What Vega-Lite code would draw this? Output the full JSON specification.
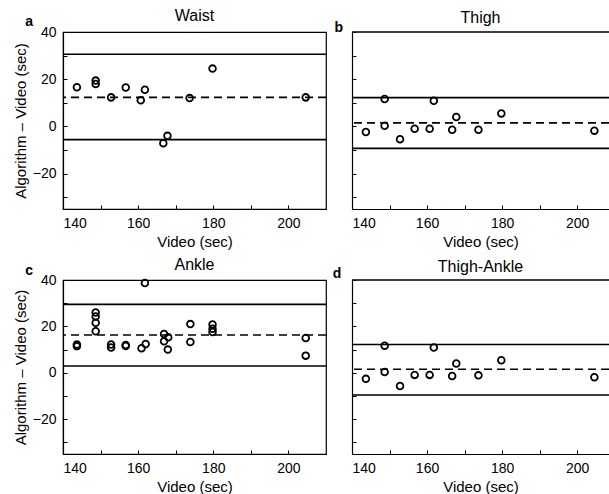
{
  "$schema": "https://vega.github.io/schema/vega-lite/v6.json",
  "padding": {"left": 12, "top": 7, "right": 0, "bottom": 5},
  "background": "white",
  "datasets": {
    "points": [
      {"panel": "a", "video": 143.7, "diff": 16.6},
      {"panel": "a", "video": 148.7, "diff": 19.4},
      {"panel": "a", "video": 148.7, "diff": 18.0},
      {"panel": "a", "video": 152.8, "diff": 12.3},
      {"panel": "a", "video": 156.7, "diff": 16.5},
      {"panel": "a", "video": 160.7, "diff": 11.1},
      {"panel": "a", "video": 161.8, "diff": 15.5},
      {"panel": "a", "video": 166.7, "diff": -7.1},
      {"panel": "a", "video": 167.8, "diff": -4.0},
      {"panel": "a", "video": 173.7, "diff": 12.0},
      {"panel": "a", "video": 179.8, "diff": 24.5},
      {"panel": "a", "video": 204.6, "diff": 12.3},
      {"panel": "b", "video": 143.7, "diff": -2.4},
      {"panel": "b", "video": 148.7, "diff": 11.6},
      {"panel": "b", "video": 148.7, "diff": 0.3},
      {"panel": "b", "video": 152.8, "diff": -5.4},
      {"panel": "b", "video": 156.7, "diff": -1.0},
      {"panel": "b", "video": 160.7, "diff": -1.0},
      {"panel": "b", "video": 161.8, "diff": 10.9},
      {"panel": "b", "video": 166.7, "diff": -1.4},
      {"panel": "b", "video": 167.8, "diff": 4.0},
      {"panel": "b", "video": 173.7, "diff": -1.4},
      {"panel": "b", "video": 179.8, "diff": 5.5},
      {"panel": "b", "video": 204.6, "diff": -1.8},
      {"panel": "c", "video": 143.7, "diff": 12.2},
      {"panel": "c", "video": 143.7, "diff": 11.5},
      {"panel": "c", "video": 148.7, "diff": 26.0},
      {"panel": "c", "video": 148.7, "diff": 24.3},
      {"panel": "c", "video": 148.7, "diff": 21.6},
      {"panel": "c", "video": 148.7, "diff": 17.9},
      {"panel": "c", "video": 152.8, "diff": 12.2},
      {"panel": "c", "video": 152.8, "diff": 10.9},
      {"panel": "c", "video": 156.7, "diff": 12.0},
      {"panel": "c", "video": 156.7, "diff": 11.6},
      {"panel": "c", "video": 160.9, "diff": 10.6},
      {"panel": "c", "video": 162.0, "diff": 12.4},
      {"panel": "c", "video": 161.8, "diff": 38.7},
      {"panel": "c", "video": 166.9, "diff": 16.7},
      {"panel": "c", "video": 166.9, "diff": 13.6},
      {"panel": "c", "video": 168.0, "diff": 15.3},
      {"panel": "c", "video": 167.9, "diff": 10.0},
      {"panel": "c", "video": 173.9, "diff": 21.0},
      {"panel": "c", "video": 173.9, "diff": 13.3},
      {"panel": "c", "video": 179.8, "diff": 20.8},
      {"panel": "c", "video": 179.8, "diff": 19.0},
      {"panel": "c", "video": 179.8, "diff": 17.6},
      {"panel": "c", "video": 204.6, "diff": 15.0},
      {"panel": "c", "video": 204.6, "diff": 7.4},
      {"panel": "d", "video": 143.7, "diff": -2.6},
      {"panel": "d", "video": 148.7, "diff": 11.7},
      {"panel": "d", "video": 148.7, "diff": 0.3},
      {"panel": "d", "video": 152.8, "diff": -5.7},
      {"panel": "d", "video": 156.7, "diff": -0.9},
      {"panel": "d", "video": 160.7, "diff": -0.9},
      {"panel": "d", "video": 161.8, "diff": 10.9},
      {"panel": "d", "video": 166.7, "diff": -1.4},
      {"panel": "d", "video": 167.8, "diff": 4.0},
      {"panel": "d", "video": 173.7, "diff": -1.1},
      {"panel": "d", "video": 179.8, "diff": 5.4},
      {"panel": "d", "video": 204.6, "diff": -1.9}
    ],
    "lines": [
      {"panel": "a", "kind": "limit", "diff": 30.6},
      {"panel": "a", "kind": "mean", "diff": 12.3},
      {"panel": "a", "kind": "limit", "diff": -5.6},
      {"panel": "b", "kind": "limit", "diff": 12.2},
      {"panel": "b", "kind": "mean", "diff": 1.5},
      {"panel": "b", "kind": "limit", "diff": -9.3},
      {"panel": "c", "kind": "limit", "diff": 29.5},
      {"panel": "c", "kind": "mean", "diff": 16.3},
      {"panel": "c", "kind": "limit", "diff": 2.9},
      {"panel": "d", "kind": "limit", "diff": 12.2},
      {"panel": "d", "kind": "mean", "diff": 1.5},
      {"panel": "d", "kind": "limit", "diff": -9.6}
    ],
    "letters": [
      {"panel": "a", "label": "a"},
      {"panel": "b", "label": "b"},
      {"panel": "c", "label": "c"},
      {"panel": "d", "label": "d"}
    ]
  },
  "columns": 2,
  "bounds": "flush",
  "spacing": {"row": 71, "column": 26},
  "concat": [
    {
      "title": {"text": "Waist", "offset": -9},
      "width": 263,
      "height": 177,
      "layer": [
        {
          "data": {"name": "lines"},
          "transform": [{"filter": "datum.panel == 'a'"}],
          "mark": {"type": "rule", "color": "black", "strokeWidth": 1.6},
          "encoding": {
            "y": {"field": "diff", "type": "quantitative", "scale": {"domain": [-35, 40], "nice": false, "zero": false},
                  "axis": {"title": "Algorithm – Video (sec)", "values": [-30, -20, -10, 0, 10, 20, 30, 40], "labelExpr": "datum.value % 20 == 0 ? datum.label : ''"}},
            "strokeDash": {"field": "kind", "type": "nominal", "scale": {"domain": ["limit", "mean"], "range": [[1, 0], [8, 5]]}, "legend": null}
          }
        },
        {
          "data": {"name": "points"},
          "transform": [{"filter": "datum.panel == 'a'"}],
          "mark": {"type": "point", "shape": "circle", "filled": false, "color": "black", "strokeWidth": 1.8, "size": 45, "opacity": 1},
          "encoding": {
            "x": {"field": "video", "type": "quantitative", "scale": {"domain": [140, 210], "nice": false, "zero": false},
                  "axis": {"title": "Video (sec)", "values": [140, 150, 160, 170, 180, 190, 200], "labelExpr": "datum.value % 20 == 0 ? datum.label : ''"}},
            "y": {"field": "diff", "type": "quantitative", "scale": {"domain": [-35, 40], "nice": false, "zero": false},
                  "axis": {"title": "Algorithm – Video (sec)", "values": [-30, -20, -10, 0, 10, 20, 30, 40], "labelExpr": "datum.value % 20 == 0 ? datum.label : ''"}}
          }
        },
        {
          "data": {"name": "letters"},
          "transform": [{"filter": "datum.panel == 'a'"}],
          "mark": {"type": "text", "fontWeight": "bold", "fontSize": 14, "color": "black", "align": "center", "baseline": "middle"},
          "encoding": {
            "text": {"field": "label"},
            "x": {"datum": 131, "type": "quantitative", "scale": {"domain": [140, 210], "nice": false, "zero": false},
                  "axis": {"title": "Video (sec)", "values": [140, 150, 160, 170, 180, 190, 200], "labelExpr": "datum.value % 20 == 0 ? datum.label : ''"}},
            "y": {"datum": 44.3, "type": "quantitative", "scale": {"domain": [-35, 40], "nice": false, "zero": false},
                  "axis": {"title": "Algorithm – Video (sec)", "values": [-30, -20, -10, 0, 10, 20, 30, 40], "labelExpr": "datum.value % 20 == 0 ? datum.label : ''"}}
          }
        }
      ]
    },
    {
      "title": {"text": "Thigh", "offset": -5},
      "width": 257,
      "height": 177,
      "view": {"stroke": null},
      "layer": [
        {
          "data": {"name": "lines"},
          "transform": [{"filter": "datum.panel == 'b'"}],
          "mark": {"type": "rule", "color": "black", "strokeWidth": 1.6},
          "encoding": {
            "y": {"field": "diff", "type": "quantitative", "scale": {"domain": [-35, 40], "nice": false, "zero": false},
                  "axis": {"title": null, "labels": false, "values": [-30, -20, -10, 0, 10, 20, 30, 40]}},
            "strokeDash": {"field": "kind", "type": "nominal", "scale": {"domain": ["limit", "mean"], "range": [[1, 0], [8, 5]]}, "legend": null}
          }
        },
        {
          "data": {"name": "letters"},
          "transform": [{"filter": "datum.panel == 'b'"}],
          "mark": {"type": "rule", "color": "black", "strokeWidth": 1.6},
          "encoding": {"y": {"datum": 40, "type": "quantitative", "scale": {"domain": [-35, 40], "nice": false, "zero": false},
                  "axis": {"title": null, "labels": false, "values": [-30, -20, -10, 0, 10, 20, 30, 40]}}}
        },
        {
          "data": {"name": "points"},
          "transform": [{"filter": "datum.panel == 'b'"}],
          "mark": {"type": "point", "shape": "circle", "filled": false, "color": "black", "strokeWidth": 1.8, "size": 45, "opacity": 1},
          "encoding": {
            "x": {"field": "video", "type": "quantitative", "scale": {"domain": [140, 208.5], "nice": false, "zero": false},
                  "axis": {"title": "Video (sec)", "values": [140, 150, 160, 170, 180, 190, 200], "labelExpr": "datum.value % 20 == 0 ? datum.label : ''"}},
            "y": {"field": "diff", "type": "quantitative", "scale": {"domain": [-35, 40], "nice": false, "zero": false},
                  "axis": {"title": null, "labels": false, "values": [-30, -20, -10, 0, 10, 20, 30, 40]}}
          }
        },
        {
          "data": {"name": "letters"},
          "transform": [{"filter": "datum.panel == 'b'"}],
          "mark": {"type": "text", "fontWeight": "bold", "fontSize": 14, "color": "black", "align": "center", "baseline": "middle"},
          "encoding": {
            "text": {"field": "label"},
            "x": {"datum": 136.5, "type": "quantitative", "scale": {"domain": [140, 208.5], "nice": false, "zero": false},
                  "axis": {"title": "Video (sec)", "values": [140, 150, 160, 170, 180, 190, 200], "labelExpr": "datum.value % 20 == 0 ? datum.label : ''"}},
            "y": {"datum": 41.7, "type": "quantitative", "scale": {"domain": [-35, 40], "nice": false, "zero": false},
                  "axis": {"title": null, "labels": false, "values": [-30, -20, -10, 0, 10, 20, 30, 40]}}
          }
        }
      ]
    },
    {
      "title": {"text": "Ankle", "offset": -9},
      "width": 263,
      "height": 174,
      "layer": [
        {
          "data": {"name": "lines"},
          "transform": [{"filter": "datum.panel == 'c'"}],
          "mark": {"type": "rule", "color": "black", "strokeWidth": 1.6},
          "encoding": {
            "y": {"field": "diff", "type": "quantitative", "scale": {"domain": [-35, 40], "nice": false, "zero": false},
                  "axis": {"title": "Algorithm – Video (sec)", "values": [-30, -20, -10, 0, 10, 20, 30, 40], "labelExpr": "datum.value % 20 == 0 ? datum.label : ''"}},
            "strokeDash": {"field": "kind", "type": "nominal", "scale": {"domain": ["limit", "mean"], "range": [[1, 0], [8, 5]]}, "legend": null}
          }
        },
        {
          "data": {"name": "points"},
          "transform": [{"filter": "datum.panel == 'c'"}],
          "mark": {"type": "point", "shape": "circle", "filled": false, "color": "black", "strokeWidth": 1.8, "size": 45, "opacity": 1},
          "encoding": {
            "x": {"field": "video", "type": "quantitative", "scale": {"domain": [140, 210], "nice": false, "zero": false},
                  "axis": {"title": "Video (sec)", "values": [140, 150, 160, 170, 180, 190, 200], "labelExpr": "datum.value % 20 == 0 ? datum.label : ''"}},
            "y": {"field": "diff", "type": "quantitative", "scale": {"domain": [-35, 40], "nice": false, "zero": false},
                  "axis": {"title": "Algorithm – Video (sec)", "values": [-30, -20, -10, 0, 10, 20, 30, 40], "labelExpr": "datum.value % 20 == 0 ? datum.label : ''"}}
          }
        },
        {
          "data": {"name": "letters"},
          "transform": [{"filter": "datum.panel == 'c'"}],
          "mark": {"type": "text", "fontWeight": "bold", "fontSize": 14, "color": "black", "align": "center", "baseline": "middle"},
          "encoding": {
            "text": {"field": "label"},
            "x": {"datum": 131, "type": "quantitative", "scale": {"domain": [140, 210], "nice": false, "zero": false},
                  "axis": {"title": "Video (sec)", "values": [140, 150, 160, 170, 180, 190, 200], "labelExpr": "datum.value % 20 == 0 ? datum.label : ''"}},
            "y": {"datum": 43.9, "type": "quantitative", "scale": {"domain": [-35, 40], "nice": false, "zero": false},
                  "axis": {"title": "Algorithm – Video (sec)", "values": [-30, -20, -10, 0, 10, 20, 30, 40], "labelExpr": "datum.value % 20 == 0 ? datum.label : ''"}}
          }
        }
      ]
    },
    {
      "title": {"text": "Thigh-Ankle", "offset": -8},
      "width": 257,
      "height": 174,
      "view": {"stroke": null},
      "layer": [
        {
          "data": {"name": "lines"},
          "transform": [{"filter": "datum.panel == 'd'"}],
          "mark": {"type": "rule", "color": "black", "strokeWidth": 1.6},
          "encoding": {
            "y": {"field": "diff", "type": "quantitative", "scale": {"domain": [-35, 40], "nice": false, "zero": false},
                  "axis": {"title": null, "labels": false, "values": [-30, -20, -10, 0, 10, 20, 30, 40]}},
            "strokeDash": {"field": "kind", "type": "nominal", "scale": {"domain": ["limit", "mean"], "range": [[1, 0], [8, 5]]}, "legend": null}
          }
        },
        {
          "data": {"name": "letters"},
          "transform": [{"filter": "datum.panel == 'd'"}],
          "mark": {"type": "rule", "color": "black", "strokeWidth": 1.6},
          "encoding": {"y": {"datum": 40, "type": "quantitative", "scale": {"domain": [-35, 40], "nice": false, "zero": false},
                  "axis": {"title": null, "labels": false, "values": [-30, -20, -10, 0, 10, 20, 30, 40]}}}
        },
        {
          "data": {"name": "points"},
          "transform": [{"filter": "datum.panel == 'd'"}],
          "mark": {"type": "point", "shape": "circle", "filled": false, "color": "black", "strokeWidth": 1.8, "size": 45, "opacity": 1},
          "encoding": {
            "x": {"field": "video", "type": "quantitative", "scale": {"domain": [140, 208.5], "nice": false, "zero": false},
                  "axis": {"title": "Video (sec)", "values": [140, 150, 160, 170, 180, 190, 200], "labelExpr": "datum.value % 20 == 0 ? datum.label : ''"}},
            "y": {"field": "diff", "type": "quantitative", "scale": {"domain": [-35, 40], "nice": false, "zero": false},
                  "axis": {"title": null, "labels": false, "values": [-30, -20, -10, 0, 10, 20, 30, 40]}}
          }
        },
        {
          "data": {"name": "letters"},
          "transform": [{"filter": "datum.panel == 'd'"}],
          "mark": {"type": "text", "fontWeight": "bold", "fontSize": 14, "color": "black", "align": "center", "baseline": "middle"},
          "encoding": {
            "text": {"field": "label"},
            "x": {"datum": 136, "type": "quantitative", "scale": {"domain": [140, 208.5], "nice": false, "zero": false},
                  "axis": {"title": "Video (sec)", "values": [140, 150, 160, 170, 180, 190, 200], "labelExpr": "datum.value % 20 == 0 ? datum.label : ''"}},
            "y": {"datum": 42.6, "type": "quantitative", "scale": {"domain": [-35, 40], "nice": false, "zero": false},
                  "axis": {"title": null, "labels": false, "values": [-30, -20, -10, 0, 10, 20, 30, 40]}}
          }
        }
      ]
    }
  ],
  "config": {
    "font": "Liberation Sans",
    "view": {"stroke": "black", "strokeWidth": 1.2},
    "axis": {
      "grid": false,
      "domainColor": "black",
      "domainWidth": 1.2,
      "tickColor": "black",
      "tickSize": -4,
      "labelColor": "black",
      "titleColor": "black",
      "labelFontSize": 14,
      "labelPadding": 11,
      "titleFontSize": 15,
      "titleFontWeight": "normal",
      "titlePadding": 4,
      "labelOverlap": false
    },
    "title": {"fontSize": 16, "fontWeight": "normal", "color": "black"}
  }
}
